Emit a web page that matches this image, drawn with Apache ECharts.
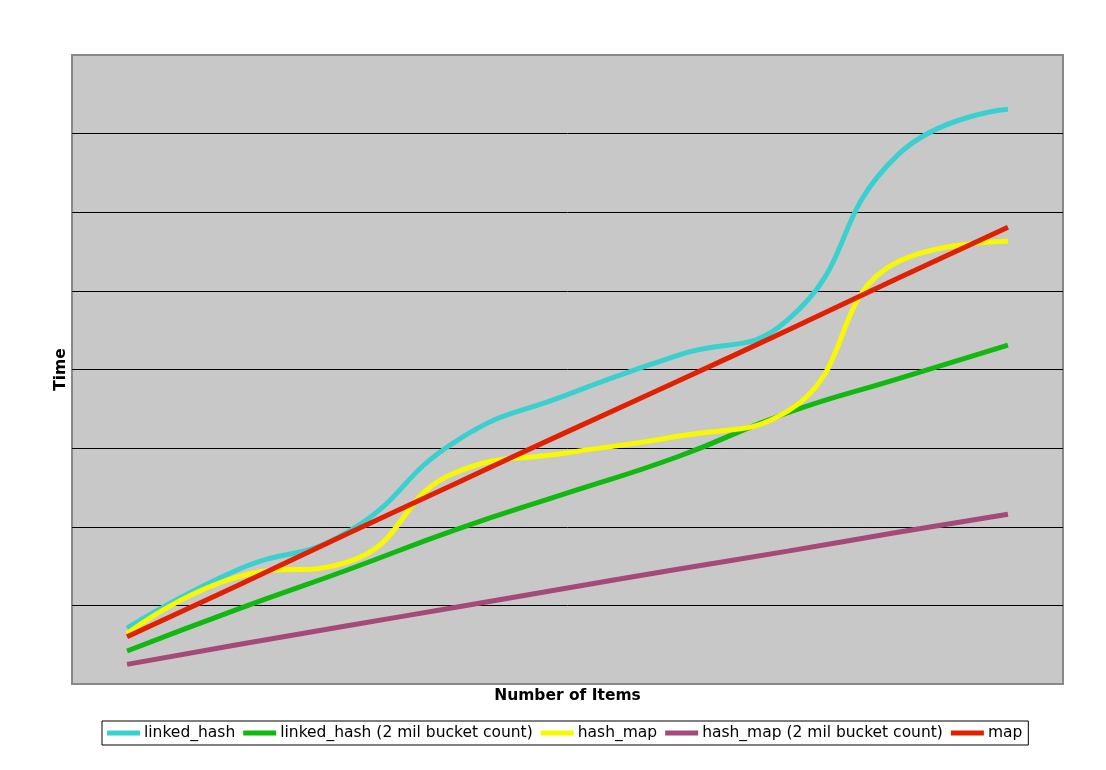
<!DOCTYPE html>
<html><head><meta charset="utf-8">
<script src="https://cdn.jsdelivr.net/npm/echarts@6/dist/echarts.min.js"></script>
<style>html,body{margin:0;padding:0;background:#fff}#c{width:1106px;height:770px}</style>
</head><body><div id="c"></div>
<script>
const categories = ['1','2','3','4','5','6','7','8','9'];
const linkedHash = [0.71, 1.45, 1.93, 3.10, 3.68, 4.18, 4.63, 6.73, 7.31];
const linkedHash2mil = [0.42, 0.95, 1.45, 1.97, 2.43, 2.89, 3.45, 3.88, 4.31];
const hashMap = [0.64, 1.36, 1.55, 2.70, 2.94, 3.15, 3.47, 5.37, 5.63];
const hashMap2mil = [0.25, 0.50, 0.74, 0.98, 1.22, 1.46, 1.69, 1.93, 2.16];
const mapVals = [0.60, 1.25, 1.91, 2.56, 3.21, 3.85, 4.50, 5.16, 5.81];
const seriesNames = ['linked_hash', 'linked_hash (2 mil bucket count)', 'hash_map', 'hash_map (2 mil bucket count)', 'map'];
const seriesColors = ['#3ad0d0', '#10b810', '#f8f800', '#a54a78', '#e02000'];
const seriesData = [linkedHash, linkedHash2mil, hashMap, hashMap2mil, mapVals];

const font = 'Verdana, "DejaVu Sans", sans-serif';
const chart = echarts.init(document.getElementById('c'), null, {renderer: 'canvas'});
chart.setOption({
  animation: false,
  grid: {left: 72, right: 43, top: 55, bottom: 86, show: true, backgroundColor: '#c8c8c8', borderColor: '#888888', borderWidth: 2},
  xAxis: {
    type: 'category', data: categories, boundaryGap: true,
    name: 'Number of Items', nameLocation: 'middle', nameGap: 4,
    nameTextStyle: {fontFamily: font, fontWeight: 'bold', fontSize: 15.5, color: '#000', verticalAlign: 'top'},
    axisLine: {show: false}, axisTick: {show: false}, axisLabel: {show: false},
    splitLine: {show: false}
  },
  yAxis: {
    type: 'value', min: 0, max: 8, interval: 1,
    name: 'Time', nameLocation: 'middle', nameGap: 3, nameRotate: 90,
    nameTextStyle: {fontFamily: font, fontWeight: 'bold', fontSize: 15.5, color: '#000', verticalAlign: 'bottom'},
    axisLine: {show: false}, axisTick: {show: false}, axisLabel: {show: false},
    splitLine: {show: true, lineStyle: {width: 1, color: ['rgba(0,0,0,0)', '#000', '#000', '#000', '#000', '#000', '#000', '#000', 'rgba(0,0,0,0)']}}
  },
  legend: {
    top: 721, left: 102,
    icon: 'rect', itemWidth: 33, itemHeight: 5, itemGap: 8,
    borderColor: '#000', borderWidth: 1, padding: [4, 6, 4, 5],
    textStyle: {fontFamily: font, fontSize: 15.5, color: '#000', padding: [0, 0, 0, -1]},
    data: seriesNames
  },
  series: seriesData.map((d, i) => ({
    name: seriesNames[i], type: 'line', data: d, smooth: 0.5,
    symbol: 'none', color: seriesColors[i],
    lineStyle: {width: 5, color: seriesColors[i]}
  }))
});
</script></body></html>
